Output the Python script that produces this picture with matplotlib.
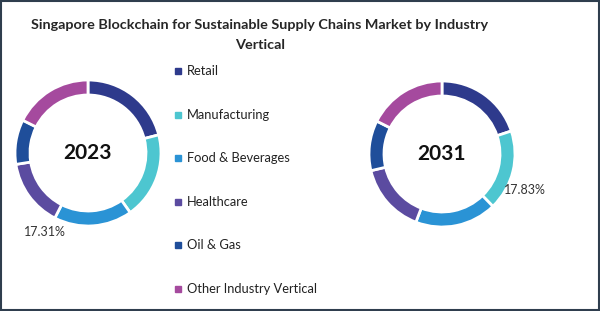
import matplotlib
matplotlib.use('Agg')
import matplotlib.pyplot as plt
from matplotlib.patches import Rectangle

# data
segments = ["Retail", "Manufacturing", "Food & Beverages", "Healthcare",
            "Oil & Gas", "Other Industry Vertical"]
share_2023 = [21.0, 19.2, 17.31, 15.0, 9.9, 17.59]
share_2031 = [19.9, 17.83, 18.1, 15.5, 11.1, 17.57]
colors = ["#2E3A8C", "#4DC6D0", "#2A93D5", "#5B4BA0", "#1F4E9A", "#A54A9E"]
years = ["2023", "2031"]

plt.rcParams['font.family'] = ['Lato', 'DejaVu Sans']

fig = plt.figure(figsize=(6, 3.11), dpi=100)
ax = fig.add_axes([0, 0, 1, 1])

# donuts
for vals, cx, cy, yr in [(share_2023, 88, 158, years[0]), (share_2031, 442, 157, years[1])]:
    ax.pie(vals, colors=colors, startangle=90, counterclock=False,
           center=(cx, cy), radius=73, frame=True,
           wedgeprops=dict(width=15, edgecolor='white', linewidth=2))
    ax.text(cx, cy, yr, ha='center', va='center', fontsize=15, fontweight='bold', color='#111111')
ax.set_xlim(0, 600)
ax.set_ylim(0, 311)
ax.set_aspect('auto')
ax.axis('off')

ax.text(45, 311 - 232, "17.31%", ha='center', va='center', fontsize=9, color='#333333')
ax.text(525, 311 - 190, "17.83%", ha='center', va='center', fontsize=9, color='#333333')

# legend
for i, (name, c) in enumerate(zip(segments, colors)):
    y = 311 - (71 + i * 43.6)
    ax.add_patch(Rectangle((175, y - 3), 6, 6, color=c))
    ax.text(187, y, name, ha='left', va='center', fontsize=9.3, color='#222222')

# title
ax.text(260, 311 - 25, "Singapore Blockchain for Sustainable Supply Chains Market by Industry",
        ha='center', va='center', fontsize=10.4, fontweight='bold', color='#262626')
ax.text(260, 311 - 45, "Vertical", ha='center', va='center', fontsize=10.4,
        fontweight='bold', color='#262626')

# border
ax.add_patch(Rectangle((1, 1), 598, 309, fill=False, edgecolor='#2F3E4E', linewidth=1.5))

fig.savefig('out.png', dpi=100)
